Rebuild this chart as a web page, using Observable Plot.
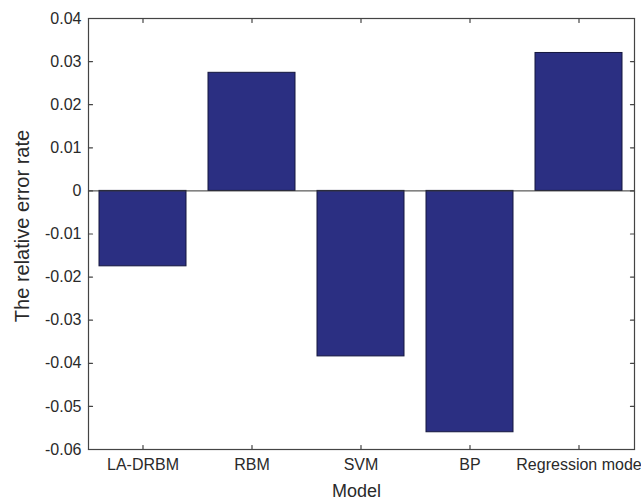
<!DOCTYPE html>
<html>
<head>
<meta charset="utf-8">
<script src="https://cdn.jsdelivr.net/npm/d3@7"></script>
<script src="https://cdn.jsdelivr.net/npm/@observablehq/plot@0.6"></script>
<style>
  html, body { margin: 0; padding: 0; background: #fff; }
  #chart { width: 641px; height: 501px; }
</style>
</head>
<body>
<div id="chart"></div>
<script>
const models = ["LA-DRBM", "RBM", "SVM", "BP", "Regression mode"];
const errorRates = [-0.0175, 0.0274, -0.0384, -0.0560, 0.0320];
const yTicks = [-0.06, -0.05, -0.04, -0.03, -0.02, -0.01, 0, 0.01, 0.02, 0.03, 0.04];
const xLabel = "Model";
const yLabel = "The relative error rate";

const data = models.map((m, i) => ({model: m, value: errorRates[i]}));
const fmt = d => d === 0 ? "0" : d.toFixed(2);
const font = "Liberation Sans, Arial, Helvetica, sans-serif";
const ink = "#2a2a2a";
const tickShape = {draw(context, l) { context.moveTo(0, 0); context.lineTo(0, -l); }};
const tickOpts = {length: 4, anchor: "start", shape: tickShape, stroke: "#444", strokeWidth: 1.2};

const chart = Plot.plot({
  width: 641,
  height: 501,
  marginLeft: 88,
  marginRight: 7,
  marginTop: 18,
  marginBottom: 52,
  style: {fontFamily: font, fontSize: "16px", color: ink, background: "#fff"},
  x: {type: "band", domain: models, paddingInner: 0.2, paddingOuter: 0.1},
  y: {domain: [-0.06, 0.04]},
  marks: [
    Plot.barY(data, {x: "model", y: "value", fill: "#2b2f82", stroke: "#15173f", strokeWidth: 1}),
    Plot.ruleY([0], {stroke: "#333", strokeWidth: 1}),
    Plot.frame({stroke: "#444", strokeWidth: 1.2}),
    // tick labels
    Plot.axisY(yTicks, {anchor: "left", tickSize: 0, tickPadding: 7, tickFormat: fmt, label: null, fill: ink}),
    Plot.axisX({anchor: "bottom", tickSize: 0, tickPadding: 9, label: null, fill: ink}),
    // inward ticks on all four sides
    Plot.vector(yTicks, {y: d => d, frameAnchor: "left", rotate: 90, ...tickOpts}),
    Plot.vector(yTicks, {y: d => d, frameAnchor: "right", rotate: -90, ...tickOpts}),
    Plot.vector(models, {x: d => d, frameAnchor: "bottom", rotate: 0, ...tickOpts}),
    Plot.vector(models, {x: d => d, frameAnchor: "top", rotate: 180, ...tickOpts}),
    // axis titles
    Plot.text([yLabel], {text: d => d, frameAnchor: "left", rotate: -90, dx: -66, dy: -8, fontSize: 20, fill: ink, textAnchor: "middle", lineAnchor: "middle"}),
    Plot.text([xLabel], {text: d => d, frameAnchor: "bottom", dx: -5, dy: 42, fontSize: 18, fill: ink, textAnchor: "middle", lineAnchor: "middle"})
  ]
});
document.getElementById("chart").appendChild(chart);
</script>
</body>
</html>
